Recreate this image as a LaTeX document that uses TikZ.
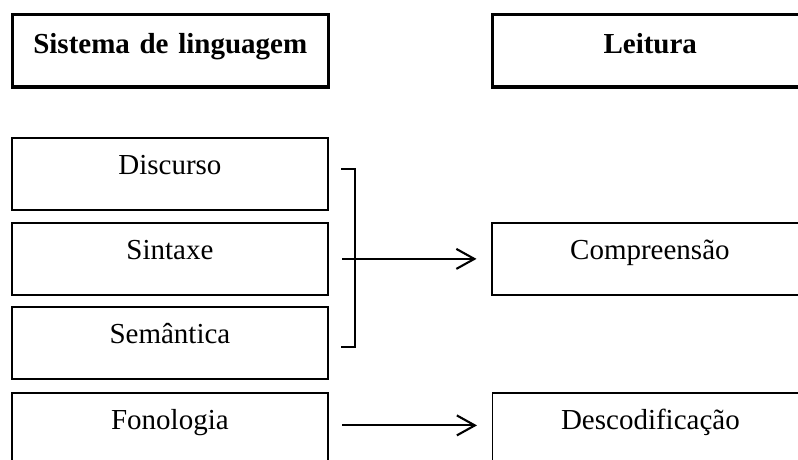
\documentclass[tikz,border=0pt]{standalone}
\usepackage{fontspec}
\setmainfont{Liberation Serif}
\usetikzlibrary{arrows.meta}
\begin{document}
\begin{tikzpicture}[x=1pt,y=-1pt,
  box/.style={draw, line width=1.8pt, anchor=north west, inner sep=0pt,
    text width=316pt, align=center, text height=36.5pt, text depth=35.5pt,
    font=\fontsize{29}{34}\selectfont},
  head/.style={box, line width=3.3pt, text height=39pt, text depth=33.8pt,
    font=\fontsize{29}{34}\selectfont\bfseries},
  conn/.style={line width=2.1pt, -{Straight Barb[length=18pt,width=20pt]}},
  bracket/.style={line width=1.8pt}]
\useasboundingbox (0,0) rectangle (798,459);
\clip (0,0) rectangle (798,459);
\node[head] (sis) at (10.6,12.6) {Sistema de linguagem};
\node[head] (lei) at (490.6,12.6) {Leitura};
\node[box] (disc) at (11,137) {Discurso};
\node[box] (sint) at (11,222) {Sintaxe};
\node[box] (sem) at (11,306) {Semântica};
\node[box] (fono) at (11,392) {Fonologia};
\node[box] (comp) at (491,222) {Compreensão};
\node[box] (desc) at (491.5,392) {Descodificação};
\coordinate (b1) at (341,169);
\coordinate (b2) at (355,169);
\coordinate (b3) at (355,347);
\coordinate (b4) at (341,347);
\draw[bracket] (b1) -- (b2) -- (b3) -- (b4);
\draw[conn, shorten <=13.5pt, shorten >=14.5pt] (sint.east) -- (comp.west);
\draw[conn, shorten <=13.5pt, shorten >=14.5pt] ([yshift=3.5pt]fono.east) -- ([yshift=3.5pt]desc.west);
\end{tikzpicture}
\end{document}
